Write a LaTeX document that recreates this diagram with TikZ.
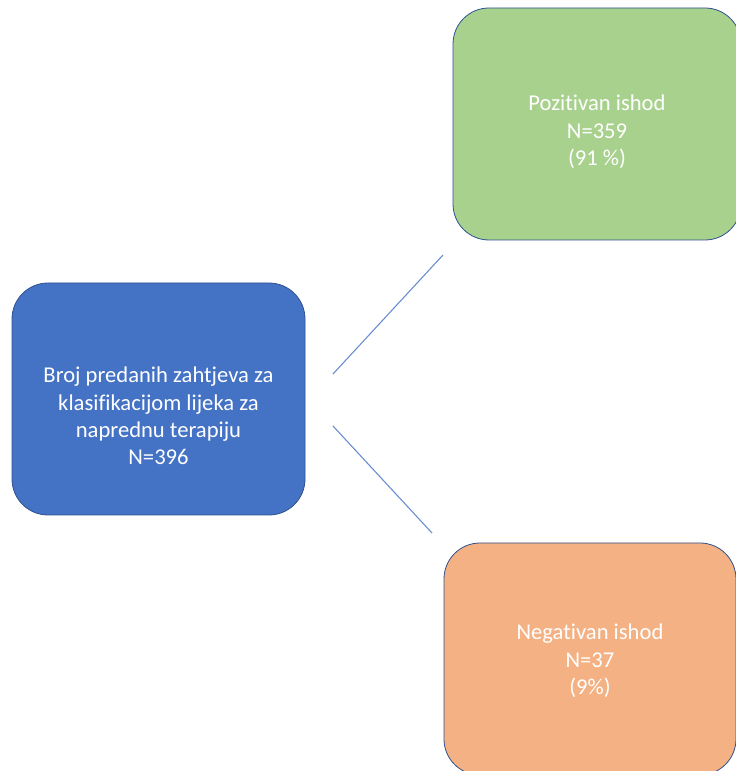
\documentclass[tikz,border=0pt]{standalone}
\usepackage{fontspec}
\setmainfont[Ligatures=NoCommon]{Carlito}
\definecolor{boxblue}{HTML}{4472C4}
\definecolor{boxgreen}{HTML}{A9D18E}
\definecolor{boxorange}{HTML}{F4B183}
\definecolor{edgeblue}{HTML}{2F528F}
\begin{document}
\begin{tikzpicture}[x=1pt, y=1pt,
  box/.style = {draw=edgeblue, line width=0.8pt, rounded corners=36pt, minimum height=232pt},
  boxtext/.style = {align=center, text=white, font=\fontsize{22.6}{27.3}\selectfont},
  link/.style = {boxblue!80, line width=1.1pt}]
\useasboundingbox (0,0) rectangle (736,771);
\node[box, fill=boxblue, minimum width=293pt] (total) at (158.5,372) {};
\node[box, fill=boxgreen, minimum width=288pt] (pos) at (597,647) {};
\node[box, fill=boxorange, minimum width=292pt] (neg) at (590,112) {};
\node[boxtext] (total text) at ([yshift=-17pt]total.center) {Broj predanih zahtjeva za\\klasifikacijom lijeka za\\naprednu terapiju\\N=396};
\node[boxtext] (pos text) at ([yshift=-8pt]pos.center) {Pozitivan ishod\\N=359\\(91 \%)};
\node[boxtext] (neg text) at ([yshift=-2pt]neg.center) {Negativan ishod\\N=37\\(9\%)};
\coordinate (p1) at (333,397);
\coordinate (p2) at (443,516);
\coordinate (n1) at (333,345);
\coordinate (n2) at (432,238);
\draw[link] (p1) -- (p2);
\draw[link] (n1) -- (n2);
\end{tikzpicture}
\end{document}
